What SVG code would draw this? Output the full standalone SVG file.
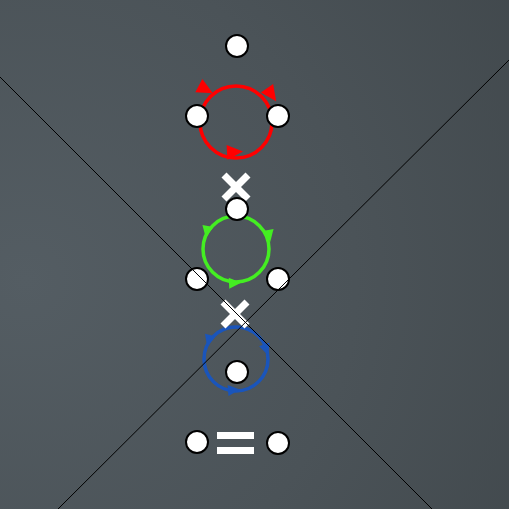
<svg xmlns="http://www.w3.org/2000/svg" width="509" height="509" viewBox="0 0 509 509">
<defs>
<radialGradient id="bg" cx="0.05" cy="0.55" r="1.3" fx="0.05" fy="0.55">
<stop offset="0" stop-color="#545d63"/>
<stop offset="0.5" stop-color="#4b5358"/>
<stop offset="1" stop-color="#3e4549"/>
</radialGradient>
<path id="ah" d="M-7,-7.5 L9,0 L-7,7.5 Z"/>
<path id="ahs" d="M-5,-5.5 L7,0 L-5,5.5 Z"/>
</defs>
<style>
.node{fill:#fff;stroke:#000;stroke-width:2}
.ring{fill:none;stroke-width:3.5}
.xm{stroke:#fff;stroke-width:7;stroke-linecap:butt}
.diag{stroke:#000;stroke-width:1}
</style>
<rect width="509" height="509" fill="url(#bg)"/>

<g id="red-loop">
<circle class="ring" cx="236" cy="122" r="36" stroke="#ff0000"/>
<use href="#ah" fill="#ff0000" transform="translate(205,89) rotate(28)"/>
<use href="#ah" fill="#ff0000" transform="translate(271,94) rotate(55)"/>
<use href="#ah" fill="#ff0000" transform="translate(234,152) rotate(-3)"/>
</g>
<g id="green-loop">
<circle class="ring" cx="236" cy="249" r="33" stroke="#44ee22"/>
<use href="#ahs" fill="#44ee22" transform="translate(207,231) rotate(100)"/>
<use href="#ahs" fill="#44ee22" transform="translate(269,235) rotate(80)"/>
<use href="#ahs" fill="#44ee22" transform="translate(234,283) rotate(-3)"/>
</g>
<g id="blue-loop">
<circle class="ring" cx="236" cy="359" r="32" stroke="#1a55bb"/>
<use href="#ahs" fill="#1a55bb" transform="translate(209,340) rotate(105)"/>
<use href="#ahs" fill="#1a55bb" transform="translate(266,349) rotate(70)"/>
<use href="#ahs" fill="#1a55bb" transform="translate(233,390) rotate(-5)"/>
</g>

<g id="times1">
<line class="xm" x1="224" y1="175" x2="248" y2="199"/>
<line class="xm" x1="248" y1="175" x2="224" y2="199"/>
</g>
<g id="times2">
<line class="xm" x1="223" y1="302" x2="247" y2="326"/>
<line class="xm" x1="247" y1="302" x2="223" y2="326"/>
</g>
<g id="equals">
<rect x="217" y="432" width="37" height="7" fill="#fff"/>
<rect x="217" y="447" width="37" height="7" fill="#fff"/>
</g>

<g id="n-top"><circle class="node" cx="237" cy="46" r="11"/></g>
<g id="n-red-l"><circle class="node" cx="197" cy="116" r="11"/></g>
<g id="n-red-r"><circle class="node" cx="278" cy="116" r="11"/></g>
<g id="n-green-t"><circle class="node" cx="237" cy="209" r="11"/></g>
<g id="n-green-l"><circle class="node" cx="197" cy="279" r="11"/></g>
<g id="n-green-r"><circle class="node" cx="278" cy="279" r="11"/></g>
<g id="n-blue"><circle class="node" cx="237" cy="372" r="11"/></g>
<g id="n-res-l"><circle class="node" cx="197" cy="442" r="11"/></g>
<g id="n-res-r"><circle class="node" cx="278" cy="443" r="11"/></g>

<g id="connectors">
<line class="diag" x1="0" y1="77" x2="432" y2="509"/>
<line class="diag" x1="509" y1="60" x2="58" y2="509"/>
</g>
</svg>
